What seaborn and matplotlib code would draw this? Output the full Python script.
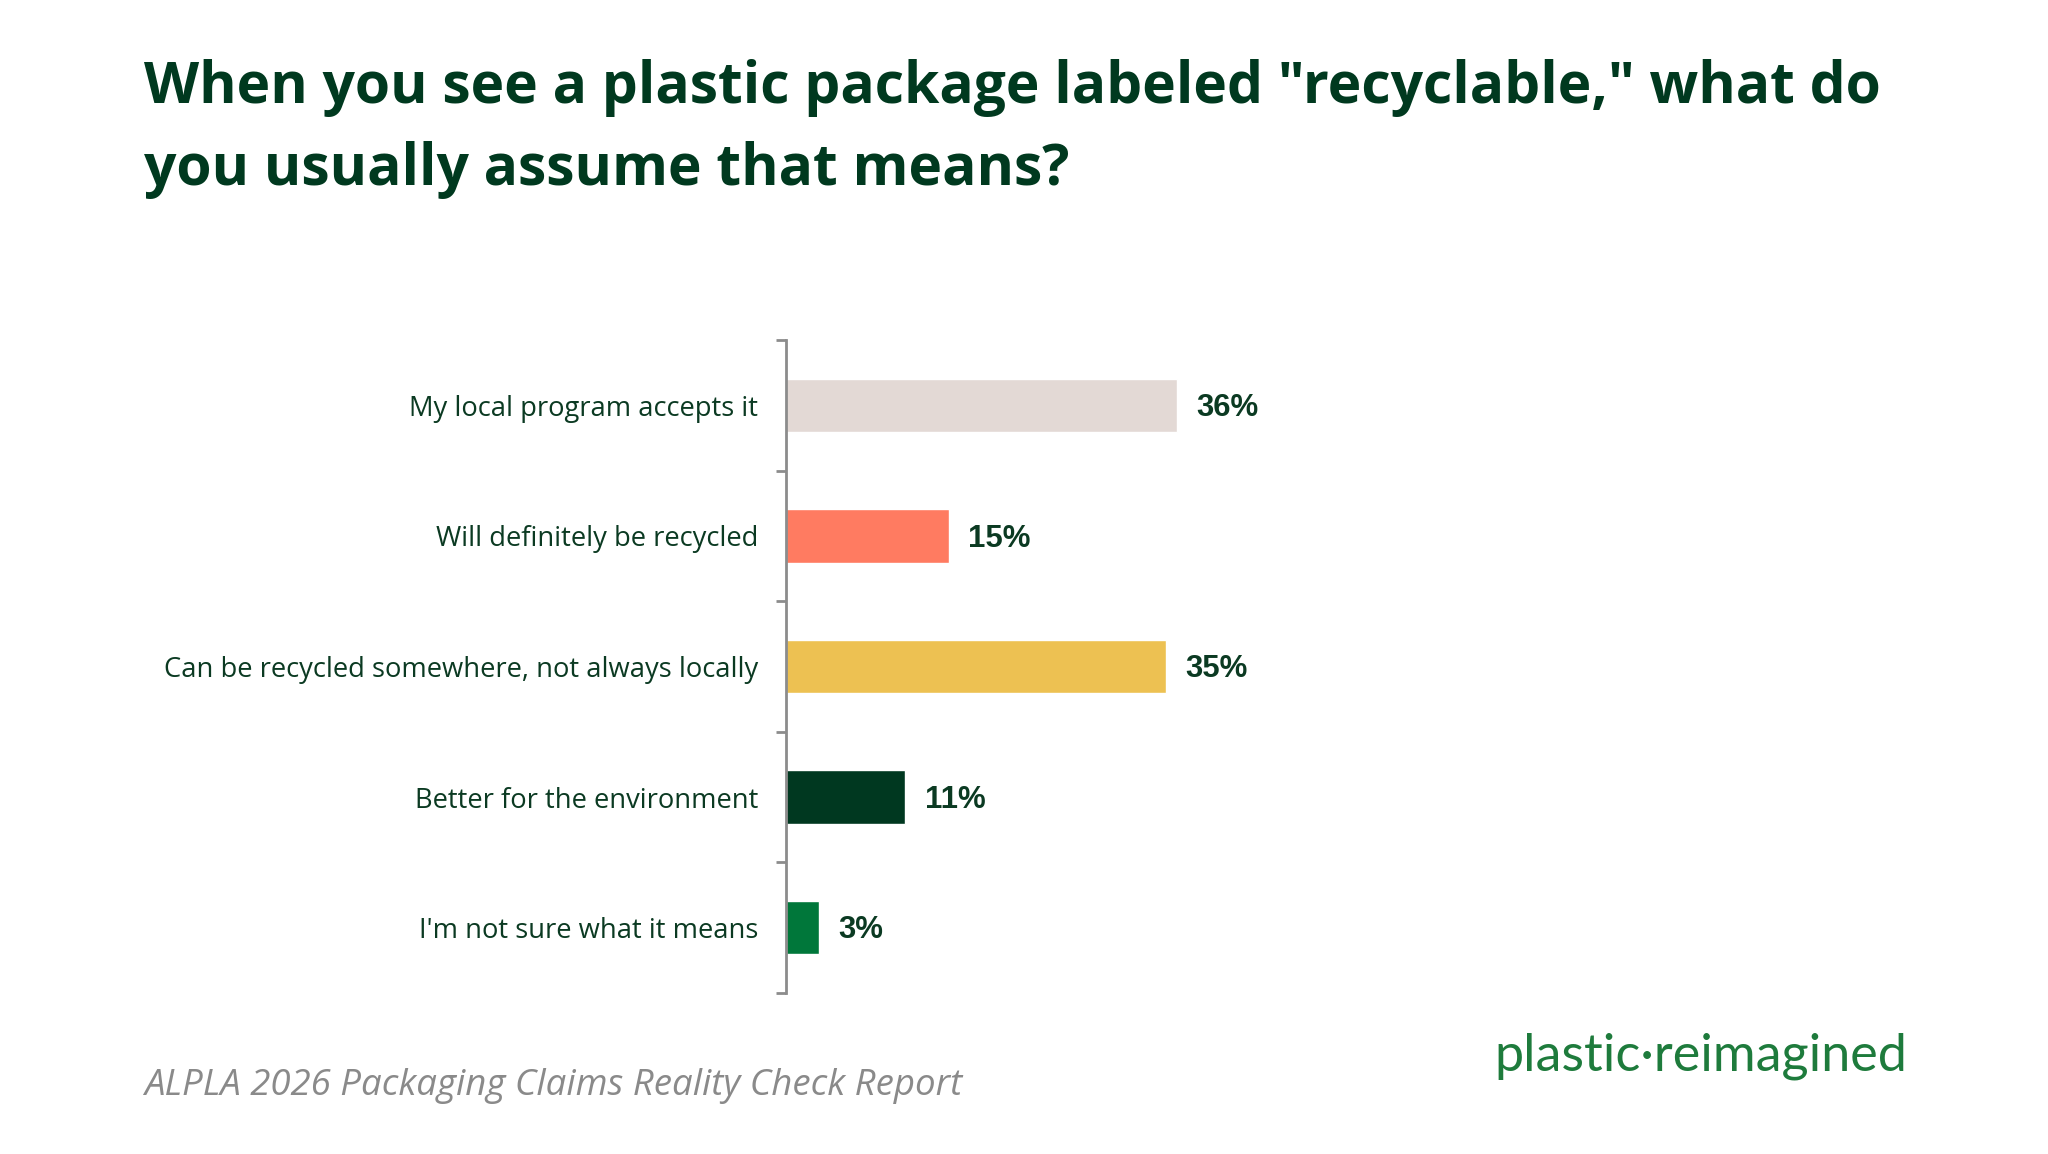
import numpy as np
import pandas as pd
import seaborn as sns
import matplotlib.pyplot as plt

# datos de la encuesta
answers = ["My local program accepts it",
           "Will definitely be recycled",
           "Can be recycled somewhere, not always locally",
           "Better for the environment",
           "I'm not sure what it means"]
shares = [36, 15, 35, 11, 3]
bar_colors = ["#E3D9D5", "#FF7B61", "#EDC152", "#003820", "#00773A"]

title = 'When you see a plastic package labeled "recyclable," what do\nyou usually assume that means?'
source = "ALPLA 2026 Packaging Claims Reality Check Report"
logo = "plastic\u00b7reimagined"

df = pd.DataFrame({"answer": answers, "share": shares})

sns.set_theme(style="white")
plt.rcParams["font.family"] = ["Open Sans", "DejaVu Sans"]

dark = "#0B3A22"

fig = plt.figure(figsize=(20.48, 11.54), dpi=100)
ax = fig.add_axes([786 / 2048, 1 - 993 / 1154, 1085 / 2048, 653 / 1154])

sns.barplot(data=df, x="share", y="answer", hue="answer", palette=bar_colors,
            legend=False, width=0.41, ax=ax, saturation=1)

ax.set_xlim(0, 100)
ax.set_ylim(len(answers) - 0.5, -0.5)
ax.set_xlabel("")
ax.set_ylabel("")
ax.set_xticks([])

# ticks del eje y en los limites entre categorias
ax.set_yticks(np.arange(-0.5, len(answers)), minor=True)
ax.set_yticks(range(len(answers)))
ax.set_yticklabels(answers, fontsize=19.7, color=dark, family=["Open Sans"])
ax.tick_params(axis="y", which="major", length=0, pad=20)
ax.tick_params(axis="y", which="minor", length=7, width=2, color="#8C8C8C", left=True)

for s in ["top", "right", "bottom"]:
    ax.spines[s].set_visible(False)
ax.spines["left"].set_color("#8C8C8C")
ax.spines["left"].set_linewidth(2)

for i, v in enumerate(shares):
    ax.text(v + 1.8, i + 0.02, f"{v}%", va="center", ha="left", fontsize=22.4,
            fontweight="bold", color=dark, family=["Liberation Sans"])

fig.text(144 / 2048, 1 - 59 / 1154, title, ha="left", va="top", fontsize=41,
         fontweight="bold", color="#00391F", family=["Open Sans"], linespacing=1.55)

fig.text(144 / 2048, 1 - 1086 / 1154, source, ha="left", va="center", fontsize=26.4,
         style="italic", color="#8A8A8A", family=["Open Sans"])

fig.text(1907 / 2048, 1 - 1056 / 1154, logo, ha="right", va="center", fontsize=37.5,
         color="#1E7B3C", family=["Lato"])

fig.savefig("out.png", dpi=100, facecolor="white")
